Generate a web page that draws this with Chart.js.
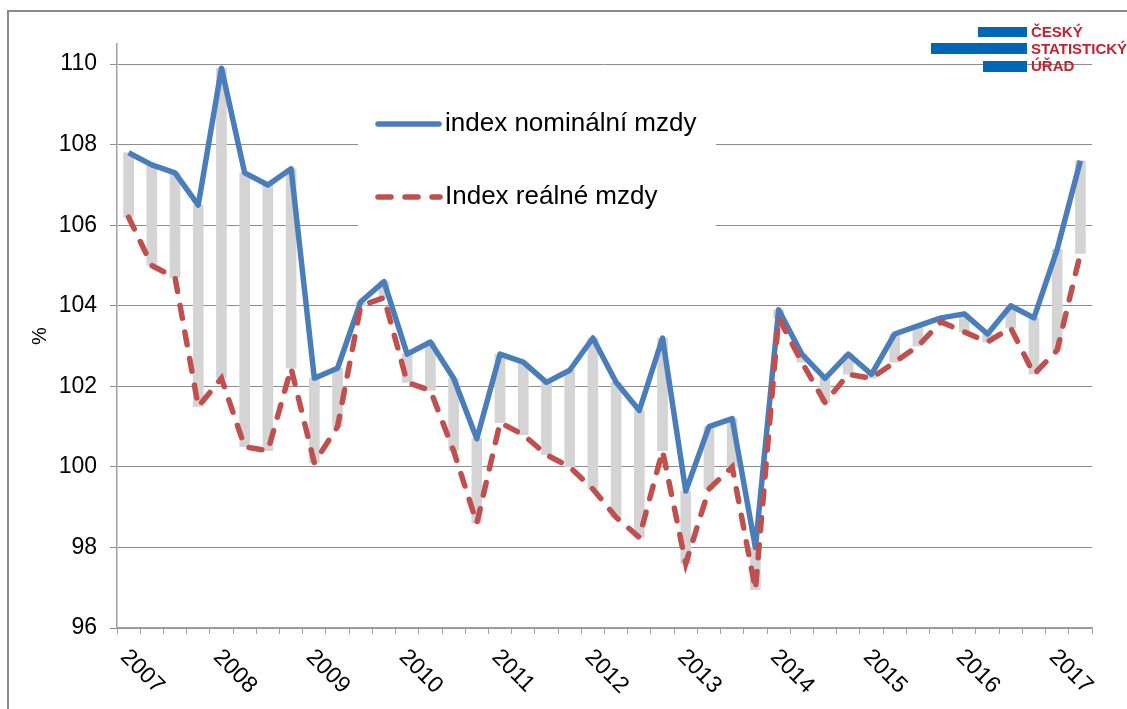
<!DOCTYPE html>
<html>
<head>
<meta charset="utf-8">
<script src="https://cdn.jsdelivr.net/npm/chart.js@4/dist/chart.umd.min.js"></script>
<style>
  html, body { margin: 0; padding: 0; background: #fff; }
  canvas { display: block; }
</style>
</head>
<body>
<canvas id="mzdyChart" width="1127" height="709"></canvas>
<script>
// quarters 2007 Q1 .. 2017 Q2
const quarters = [
    '2007Q1', '2007Q2', '2007Q3', '2007Q4',
    '2008Q1', '2008Q2', '2008Q3', '2008Q4',
    '2009Q1', '2009Q2', '2009Q3', '2009Q4',
    '2010Q1', '2010Q2', '2010Q3', '2010Q4',
    '2011Q1', '2011Q2', '2011Q3', '2011Q4',
    '2012Q1', '2012Q2', '2012Q3', '2012Q4',
    '2013Q1', '2013Q2', '2013Q3', '2013Q4',
    '2014Q1', '2014Q2', '2014Q3', '2014Q4',
    '2015Q1', '2015Q2', '2015Q3', '2015Q4',
    '2016Q1', '2016Q2', '2016Q3', '2016Q4',
    '2017Q1', '2017Q2'
];

const nominal = [
    107.8, 107.5, 107.3, 106.5,
    109.9, 107.3, 107.0, 107.4,
    102.2, 102.45, 104.1, 104.6,
    102.8, 103.1, 102.2, 100.7,
    102.8, 102.6, 102.1, 102.4,
    103.2, 102.1, 101.4, 103.2,
    99.4, 101.0, 101.2, 98.0,
    103.9, 102.8, 102.2, 102.8,
    102.3, 103.3, 103.5, 103.7,
    103.8, 103.3, 104.0, 103.7,
    105.4, 107.6
];

const real = [
    106.2, 105.0, 104.7, 101.5,
    102.2, 100.5, 100.4, 102.45,
    100.1, 101.0, 104.0, 104.2,
    102.1, 101.9, 100.4, 98.6,
    101.1, 100.8, 100.3, 100.0,
    99.45, 98.75, 98.25, 100.4,
    97.6, 99.45, 100.0, 96.95,
    103.7, 102.6, 101.6, 102.3,
    102.2, 102.6, 103.0, 103.6,
    103.35, 103.1, 103.45, 102.3,
    102.9, 105.3
];

const yTicks = { min: 96, max: 110.5, step: 2 };
const seriesNames = ['index nominální mzdy', 'Index reálné mzdy'];

const FONT = '"Liberation Sans", Arial, sans-serif';
const BLUE = '#4a7ebb';
const RED = '#c0504d';

// frame, legend box, legend, year labels, logo
const decorations = {
    id: 'decorations',
    beforeDraw(chart) {
        const ctx = chart.ctx;
        ctx.save();
        ctx.fillStyle = '#fff';
        ctx.fillRect(0, 0, chart.width, chart.height);
        ctx.strokeStyle = '#8a8a8a';
        ctx.lineWidth = 2;
        ctx.strokeRect(8, 11, 1300, 900);
        ctx.restore();
    },
    beforeDatasetsDraw(chart) {
        // white legend box covers the grid lines
        const ctx = chart.ctx;
        ctx.save();
        ctx.fillStyle = '#fff';
        ctx.fillRect(358, 84, 358, 170);
        ctx.restore();
    },
    afterDraw(chart) {
        const ctx = chart.ctx;
        const x = chart.scales.x;
        ctx.save();

        // legend
        ctx.lineWidth = 5.5;
        ctx.lineCap = 'round';
        ctx.strokeStyle = BLUE;
        ctx.beginPath(); ctx.moveTo(378, 124); ctx.lineTo(439, 124); ctx.stroke();
        ctx.strokeStyle = RED;
        ctx.setLineDash([13, 14]);
        ctx.beginPath(); ctx.moveTo(378, 197); ctx.lineTo(440, 197); ctx.stroke();
        ctx.setLineDash([]);
        ctx.fillStyle = '#000';
        ctx.font = '26px ' + FONT;
        ctx.textBaseline = 'middle';
        ctx.textAlign = 'left';
        ctx.fillText(seriesNames[0], 445, 124);
        ctx.fillText(seriesNames[1], 445, 197);

        // year labels, rotated down to the right
        ctx.font = '23px ' + FONT;
        ctx.textBaseline = 'alphabetic';
        quarters.forEach((q, i) => {
            if (!q.endsWith('Q1')) return;
            const px = x.getPixelForValue(i);
            ctx.save();
            ctx.translate(px - 9, 658);
            ctx.rotate(Math.PI / 4);
            ctx.fillText(q.slice(0, 4), 0, 0);
            ctx.restore();
        });

        // CZSO logo
        ctx.fillStyle = '#0067b4';
        ctx.fillRect(978, 27, 49, 10);
        ctx.fillRect(931, 43, 96, 11);
        ctx.fillRect(983, 61, 44, 11);
        ctx.fillStyle = '#c8202f';
        ctx.font = 'bold 15px ' + FONT;
        ctx.textBaseline = 'middle';
        ctx.fillText('ČESKÝ', 1031, 33);
        ctx.fillText('STATISTICKÝ', 1031, 50);
        ctx.fillText('ÚŘAD', 1031, 67);
        ctx.restore();
    }
};

new Chart(document.getElementById('mzdyChart').getContext('2d'), {
    data: {
        labels: quarters,
        datasets: [
            {
                type: 'line',
                label: seriesNames[1],
                data: real,
                borderColor: RED,
                borderWidth: 5.5,
                borderDash: [13, 14],
                borderCapStyle: 'round',
                pointRadius: 0,
                tension: 0,
                order: 1
            },
            {
                type: 'line',
                label: seriesNames[0],
                data: nominal,
                borderColor: BLUE,
                borderWidth: 5.5,
                borderJoinStyle: 'round',
                pointRadius: 0,
                tension: 0,
                order: 2
            },
            {
                type: 'bar',
                label: 'rozdíl',
                data: quarters.map((q, i) => [real[i], nominal[i]]),
                backgroundColor: '#d4d4d4',
                barThickness: 10,
                order: 3
            }
        ]
    },
    options: {
        responsive: false,
        animation: false,
        layout: { padding: { left: 8, top: 44, right: 35, bottom: 0 } },
        plugins: {
            legend: { display: false },
            tooltip: { enabled: false }
        },
        scales: {
            x: {
                type: 'category',
                afterFit(scale) { scale.height = 81; },
                grid: { offset: true, drawOnChartArea: false, drawTicks: true, tickLength: 6, color: '#a0a0a0' },
                border: { color: '#a0a0a0', width: 1.5 },
                ticks: { display: false, autoSkip: false }
            },
            y: {
                min: yTicks.min,
                max: yTicks.max,
                afterFit(scale) { scale.width = 109; },
                grid: { color: '#8c8c8c', lineWidth: 1, tickLength: 7 },
                border: { color: '#a0a0a0', width: 1.5 },
                ticks: {
                    stepSize: yTicks.step,
                    includeBounds: false,
                    padding: 13,
                    color: '#000',
                    font: { family: FONT, size: 23 }
                },
                title: {
                    display: true,
                    text: '%',
                    color: '#000',
                    padding: { top: 20, bottom: 0 },
                    font: { family: FONT, size: 20 }
                }
            }
        }
    },
    plugins: [decorations]
});
</script>
</body>
</html>
